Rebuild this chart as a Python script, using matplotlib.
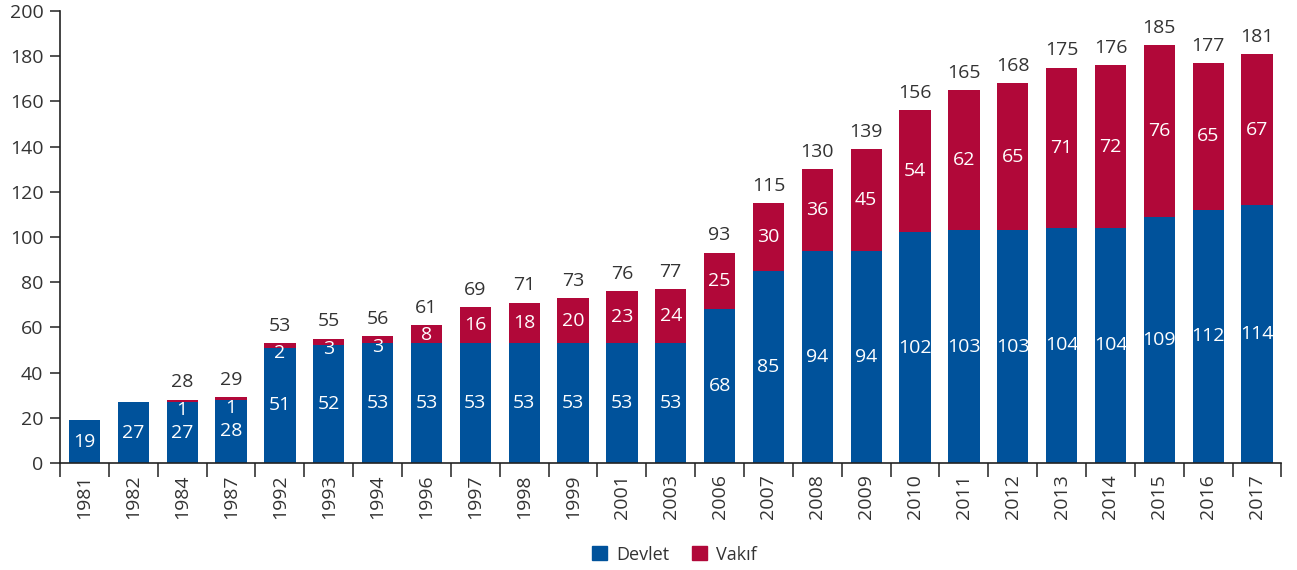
import matplotlib
matplotlib.use("Agg")
import matplotlib.pyplot as plt
from matplotlib.patches import Patch
import numpy as np

years = ['1981', '1982', '1984', '1987', '1992', '1993', '1994', '1996', '1997',
         '1998', '1999', '2001', '2003', '2006', '2007', '2008', '2009', '2010',
         '2011', '2012', '2013', '2014', '2015', '2016', '2017']
devlet = [19, 27, 27, 28, 51, 52, 53, 53, 53, 53, 53, 53, 53, 68, 85, 94, 94,
          102, 103, 103, 104, 104, 109, 112, 114]
vakif = [0, 0, 1, 1, 2, 3, 3, 8, 16, 18, 20, 23, 24, 25, 30, 36, 45, 54, 62,
         65, 71, 72, 76, 65, 67]

blue = '#00529b'
red = '#b10839'
txt = '#333333'

plt.rcParams['font.family'] = ['Open Sans', 'DejaVu Sans']

fig = plt.figure(figsize=(12.97, 5.70), dpi=100)
ax = fig.add_axes([0.0463, 0.1877, 0.9417, 0.793])

x = np.arange(len(years))
dev = np.array(devlet)
vak = np.array(vakif)
tot = dev + vak

ax.bar(x, dev, width=0.64, color=blue, zorder=2)
ax.bar(x, vak, width=0.64, bottom=dev, color=red, zorder=2)

fs = 14
for i in x:
    ax.text(i, dev[i] / 2, str(dev[i]), ha='center', va='center', color='white', fontsize=fs)
    if vak[i] > 0:
        ly = tot[i] - max(vak[i] / 2, 4.5)
        ax.text(i, ly, str(vak[i]), ha='center', va='center', color='white', fontsize=fs)
        ax.annotate(str(tot[i]), (i, tot[i]), xytext=(0, 6), textcoords='offset points',
                    ha='center', va='bottom', color=txt, fontsize=fs)

ax.set_xlim(-0.5, len(years) - 0.5)
ax.set_ylim(0, 200)
ax.set_yticks(range(0, 201, 20))
ax.set_xticks(x)
ax.set_xticklabels(years, rotation=90, fontsize=fs, color=txt)
ax.set_xticks(np.arange(-0.5, len(years), 1), minor=True)
ax.tick_params(axis='x', which='major', length=0, pad=8)
ax.tick_params(axis='x', which='minor', length=10, width=1.2, color='#333333', direction='out')
ax.tick_params(axis='y', length=7, width=1.2, color='#333333', labelsize=fs, labelcolor=txt, pad=5)
for s in ['top', 'right']:
    ax.spines[s].set_visible(False)
for s in ['left', 'bottom']:
    ax.spines[s].set_color('#222222')
    ax.spines[s].set_linewidth(1.2)

handles = [Patch(color=blue, label='Devlet'), Patch(color=red, label='Vakıf')]
fig.legend(handles=handles, loc='center', bbox_to_anchor=(0.52, 0.027), ncol=2,
           frameon=False, fontsize=13, handlelength=0.8, handleheight=0.8,
           handletextpad=0.5, columnspacing=1.3, labelcolor=txt)

fig.savefig('out.png', dpi=100)
